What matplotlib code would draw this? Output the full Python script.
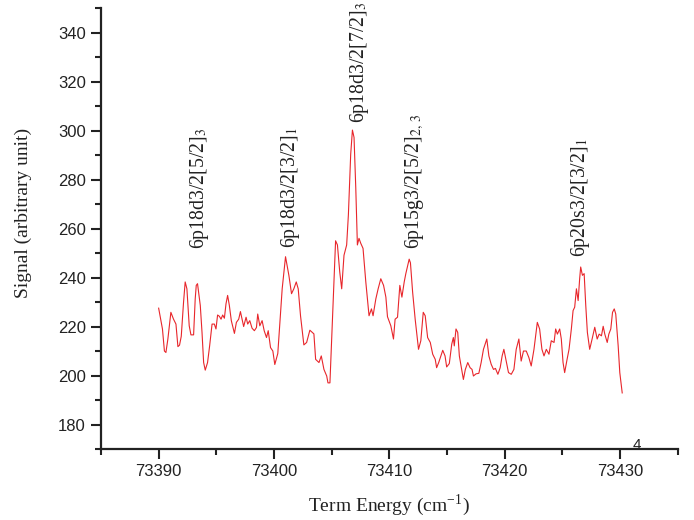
import matplotlib
matplotlib.use("Agg")
import matplotlib.pyplot as plt
from matplotlib.ticker import MultipleLocator

energy = [73390.00, 73390.33, 73390.50, 73390.63, 73390.80, 73391.06, 73391.29, 73391.50,
          73391.67, 73391.81, 73391.96, 73392.16, 73392.30, 73392.45, 73392.65, 73392.80,
          73393.03, 73393.17, 73393.26, 73393.37, 73393.61, 73393.76, 73393.90, 73394.04,
          73394.24, 73394.42, 73394.63, 73394.83, 73394.97, 73395.11, 73395.26, 73395.41,
          73395.55, 73395.70, 73395.84, 73395.98, 73396.13, 73396.30, 73396.57, 73396.74,
          73396.94, 73397.09, 73397.23, 73397.37, 73397.58, 73397.72, 73397.90, 73398.10,
          73398.30, 73398.48, 73398.59, 73398.77, 73398.97, 73399.15, 73399.35, 73399.50,
          73399.70, 73399.90, 73400.07,
          73400.33, 73400.71, 73401.00, 73401.29, 73401.52, 73401.72, 73401.93, 73402.10,
          73402.30, 73402.59, 73402.83, 73403.11, 73403.46, 73403.61, 73403.90, 73404.10,
          73404.33, 73404.57, 73404.68, 73404.85, 73405.06, 73405.34, 73405.50, 73405.70,
          73405.87, 73406.07, 73406.30, 73406.45, 73406.65, 73406.80, 73406.94, 73407.09,
          73407.23, 73407.37, 73407.52, 73407.72, 73407.96, 73408.24, 73408.45, 73408.59,
          73408.83, 73409.03, 73409.26, 73409.50, 73409.70, 73409.84,
          73410.13, 73410.36, 73410.50, 73410.71, 73410.91, 73411.09, 73411.29, 73411.43,
          73411.72, 73411.83, 73412.02, 73412.24, 73412.53, 73412.73, 73412.94, 73413.11,
          73413.32, 73413.55, 73413.76, 73413.98, 73414.10, 73414.28, 73414.42, 73414.63,
          73414.83, 73414.97, 73415.20, 73415.41, 73415.55, 73415.63, 73415.78, 73415.93,
          73416.07, 73416.22, 73416.42, 73416.59, 73416.80, 73417.00, 73417.17, 73417.29,
          73417.52, 73417.76, 73417.96, 73418.16, 73418.45, 73418.63, 73418.83, 73419.03,
          73419.20, 73419.41, 73419.61, 73419.78, 73419.93, 73420.07,
          73420.33, 73420.57, 73420.80, 73421.00, 73421.23, 73421.43, 73421.63, 73421.87,
          73422.10, 73422.30, 73422.54, 73422.83, 73423.03, 73423.23, 73423.41, 73423.61,
          73423.84, 73424.04, 73424.28, 73424.42, 73424.57, 73424.77, 73424.91, 73425.06,
          73425.20, 73425.41, 73425.58, 73425.78, 73425.93, 73426.07, 73426.22, 73426.37,
          73426.50, 73426.59, 73426.74, 73426.89, 73427.03, 73427.17, 73427.37, 73427.58,
          73427.81, 73428.02, 73428.19, 73428.39, 73428.54, 73428.68, 73428.89, 73429.03,
          73429.20, 73429.35, 73429.50, 73429.63, 73429.84, 73429.98, 73430.19]

signal = [227.5, 219.0, 210.0, 209.4, 214.9, 225.8, 223.0, 221.0,
          211.8, 212.4, 216.0, 230.0, 238.2, 235.4, 220.3, 216.6,
          216.6, 231.3, 236.8, 237.5, 228.6, 217.6, 205.3, 202.2,
          205.3, 212.1, 221.0, 221.0, 219.0, 224.7, 224.2, 223.0,
          224.7, 223.4, 229.3, 232.7, 228.6, 222.4, 217.2, 221.7,
          223.0, 226.1, 223.0, 220.0, 223.8, 221.0, 222.4, 219.3,
          218.3, 219.6, 225.1, 220.3, 222.4, 218.3, 215.5, 218.3,
          211.4, 210.0, 204.5,
          209.0, 235.4, 248.5, 240.9, 233.4, 235.4, 238.2, 235.4,
          224.4, 212.5, 213.5, 218.5, 217.0, 206.6, 205.3, 208.0,
          202.5, 199.8, 197.0, 197.0, 221.7, 255.0, 253.3, 242.3,
          235.4, 249.1, 253.3, 265.6, 290.3, 300.2, 297.2, 276.6,
          253.3, 256.0, 254.0, 251.9, 238.2, 224.4, 227.2, 224.4,
          231.3, 235.4, 239.5, 236.8, 232.0, 224.0,
          220.3, 214.9, 223.0, 223.8, 236.8, 232.0, 238.2, 241.6,
          247.5, 246.0, 234.0, 223.0, 210.7, 214.2, 225.8, 224.4,
          215.5, 213.5, 208.7, 206.6, 203.2, 205.3, 207.3, 210.3,
          208.0, 203.5, 204.9, 212.8, 215.5, 212.1, 219.0, 217.6,
          208.0, 203.9, 198.4, 202.5, 205.3, 203.2, 202.5, 199.8,
          200.7, 200.9, 205.3, 210.7, 214.9, 208.0, 204.6, 202.5,
          202.9, 200.5, 203.2, 208.0, 210.7, 207.3,
          201.2, 200.5, 202.5, 210.7, 214.9, 205.9, 210.0, 210.0,
          207.3, 203.9, 210.7, 221.7, 219.0, 210.7, 208.0, 210.7,
          208.7, 214.2, 213.5, 219.0, 216.9, 219.0, 214.9, 205.3,
          201.2, 206.6, 210.7, 219.0, 226.5, 227.9, 235.4, 230.6,
          239.5, 244.3, 240.9, 241.6, 228.6, 217.6, 210.7, 214.9,
          219.7, 214.9, 216.9, 216.2, 220.1, 216.9, 213.5, 216.9,
          219.0, 225.8, 227.2, 225.1, 212.1, 201.2, 192.9]

peak_labels = [r"6p18d3/2[5/2]$_3$", r"6p18d3/2[3/2]$_1$", r"6p18d3/2[7/2]$_3$",
               r"6p15g3/2[5/2]$_{2,\,3}$", r"6p20s3/2[3/2]$_1$"]
label_x = [73393.5, 73401.4, 73407.4, 73412.2, 73426.6]
label_y = [251.5, 252.0, 303.0, 251.5, 248.5]

xticks = [73390, 73400, 73410, 73420, 73430]
yticks = [180, 200, 220, 240, 260, 280, 300, 320, 340]

plt.rcParams['mathtext.fontset'] = 'stix'
plt.rcParams['font.family'] = ['Liberation Sans', 'DejaVu Sans']

fig = plt.figure(figsize=(6.94, 5.2), dpi=100)
ax = fig.add_axes([0.1455, 0.1365, 0.831, 0.848])
ax.plot(energy, signal, color='#e8262b', lw=0.8)

ax.set_xlim(73385, 73435)
ax.set_ylim(170, 350)
ax.set_xticks(xticks)
ax.set_yticks(yticks)
ax.xaxis.set_minor_locator(MultipleLocator(5))
ax.yaxis.set_minor_locator(MultipleLocator(10))
ax.tick_params(which='major', direction='out', length=7, width=1.5, color='#222222',
               pad=4, labelsize=12, labelcolor='#222222')
ax.tick_params(which='minor', direction='out', length=4, width=1.5, color='#222222')
ax.spines['top'].set_visible(False)
ax.spines['right'].set_visible(False)
for s in ('left', 'bottom'):
    ax.spines[s].set_linewidth(1.6)
    ax.spines[s].set_color('#222222')

ax.set_xlabel(r"Term Energy (cm$^{\mathregular{-1}}$)", fontfamily='Liberation Serif',
              fontsize=14, color='#222222')
ax.set_ylabel("Signal (arbitrary unit)", fontfamily='Liberation Serif', fontsize=14,
              color='#222222')
ax.xaxis.set_label_coords(0.5, -0.1)
ax.yaxis.set_label_coords(-0.12, 0.535)

for t, x, y in zip(peak_labels, label_x, label_y):
    ax.text(x, y, t, rotation=90, ha='center', va='bottom', fontfamily='Liberation Serif',
            fontsize=14.2, color='#222222')

fig.text(637 / 694, 1 - 445 / 520, "4", fontfamily='Liberation Sans', fontsize=11,
         color='#222222', ha='center', va='center')

fig.savefig("out.png", dpi=100)
